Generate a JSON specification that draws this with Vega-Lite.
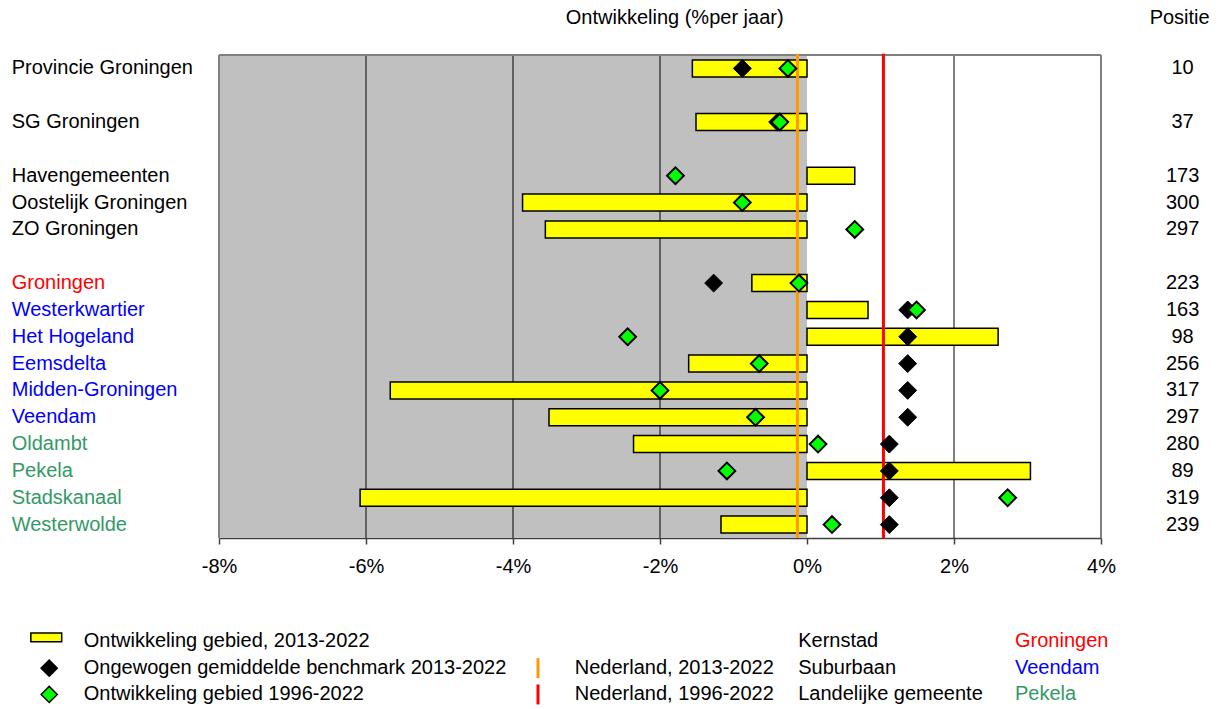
{
  "$schema": "https://vega.github.io/schema/vega-lite/v6.json",
  "width": 882,
  "height": 483,
  "autosize": {"type": "none"},
  "padding": {"left": 219, "top": 55, "right": 119, "bottom": 171},
  "background": "white",
  "config": {
    "view": {"stroke": null},
    "font": "Liberation Sans",
    "text": {"font": "Liberation Sans", "fontSize": 20},
    "scale": {"continuousPadding": 0}
  },
  "datasets": {
    "rows": [
      {"slot": 0, "name": "Provincie Groningen", "cat": "none", "bar": -1.56, "bench": -0.88, "green": -0.26, "pos": 10},
      {"slot": 2, "name": "SG Groningen", "cat": "none", "bar": -1.51, "bench": -0.40, "green": -0.37, "pos": 37},
      {"slot": 4, "name": "Havengemeenten", "cat": "none", "bar": 0.65, "bench": null, "green": -1.79, "pos": 173},
      {"slot": 5, "name": "Oostelijk Groningen", "cat": "none", "bar": -3.87, "bench": null, "green": -0.88, "pos": 300},
      {"slot": 6, "name": "ZO Groningen", "cat": "none", "bar": -3.56, "bench": null, "green": 0.65, "pos": 297},
      {"slot": 8, "name": "Groningen", "cat": "Kernstad", "bar": -0.75, "bench": -1.27, "green": -0.11, "pos": 223},
      {"slot": 9, "name": "Westerkwartier", "cat": "Suburbaan", "bar": 0.83, "bench": 1.37, "green": 1.49, "pos": 163},
      {"slot": 10, "name": "Het Hogeland", "cat": "Suburbaan", "bar": 2.60, "bench": 1.37, "green": -2.44, "pos": 98},
      {"slot": 11, "name": "Eemsdelta", "cat": "Suburbaan", "bar": -1.61, "bench": 1.37, "green": -0.65, "pos": 256},
      {"slot": 12, "name": "Midden-Groningen", "cat": "Suburbaan", "bar": -5.67, "bench": 1.37, "green": -2.0, "pos": 317},
      {"slot": 13, "name": "Veendam", "cat": "Suburbaan", "bar": -3.51, "bench": 1.37, "green": -0.70, "pos": 297},
      {"slot": 14, "name": "Oldambt", "cat": "Landelijk", "bar": -2.36, "bench": 1.12, "green": 0.15, "pos": 280},
      {"slot": 15, "name": "Pekela", "cat": "Landelijk", "bar": 3.04, "bench": 1.12, "green": -1.09, "pos": 89},
      {"slot": 16, "name": "Stadskanaal", "cat": "Landelijk", "bar": -6.08, "bench": 1.12, "green": 2.73, "pos": 319},
      {"slot": 17, "name": "Westerwolde", "cat": "Landelijk", "bar": -1.17, "bench": 1.12, "green": 0.34, "pos": 239}
    ],
    "nl": [
      {"period": "2013-2022", "v": -0.13, "lslot": 22.35},
      {"period": "1996-2022", "v": 1.04, "lslot": 23.33}
    ],
    "grid": [
      {"v": -8, "kind": "border"},
      {"v": -6, "kind": "grid"},
      {"v": -4, "kind": "grid"},
      {"v": -2, "kind": "grid"},
      {"v": 2, "kind": "grid"},
      {"v": 4, "kind": "border"}
    ],
    "legtext": [
      {"t": "Ontwikkeling gebied, 2013-2022", "col": 1, "slot": 21.34, "cat": "none"},
      {"t": "Ongewogen gemiddelde benchmark 2013-2022", "col": 1, "slot": 22.35, "cat": "none"},
      {"t": "Ontwikkeling gebied 1996-2022", "col": 1, "slot": 23.33, "cat": "none"},
      {"t": "Nederland, 2013-2022", "col": 2, "slot": 22.35, "cat": "none"},
      {"t": "Nederland, 1996-2022", "col": 2, "slot": 23.33, "cat": "none"},
      {"t": "Kernstad", "col": 3, "slot": 21.34, "cat": "none"},
      {"t": "Suburbaan", "col": 3, "slot": 22.35, "cat": "none"},
      {"t": "Landelijke gemeente", "col": 3, "slot": 23.33, "cat": "none"},
      {"t": "Groningen", "col": 4, "slot": 21.34, "cat": "Kernstad"},
      {"t": "Veendam", "col": 4, "slot": 22.35, "cat": "Suburbaan"},
      {"t": "Pekela", "col": 4, "slot": 23.33, "cat": "Landelijk"}
    ],
    "legsym": [
      {"item": "bench", "slot": 22.35},
      {"item": "green", "slot": 23.33}
    ],
    "titles": [
      {"t": "Ontwikkeling (%per jaar)", "kind": "x"},
      {"t": "Positie", "kind": "pos"}
    ]
  },
  "resolve": {"scale": {"color": "independent", "fill": "independent"}},
  "layer": [
    {
      "data": {"values": [{}]},
      "mark": {"type": "rect", "fill": "#C0C0C0"},
      "encoding": {
        "x": {"datum": -8, "type": "quantitative", "title": null,
          "scale": {"domain": [-8, 4], "nice": false, "zero": false, "padding": 0},
          "axis": {"values": [-8, -6, -4, -2, 0, 2, 4], "labelExpr": "datum.value + '%'", "title": null, "grid": false,
            "domainColor": "#404040", "domainWidth": 1.5, "tickColor": "#404040", "tickSize": 6, "tickWidth": 1.5,
            "labelFont": "Liberation Sans", "labelFontSize": 20, "labelColor": "#000000", "labelPadding": 12, "labelFlush": false}},
        "x2": {"datum": 0},
        "y": {"datum": -0.5, "type": "quantitative",
          "scale": {"domain": [-0.5, 17.5], "reverse": true, "nice": false, "zero": false, "padding": 0}, "axis": null},
        "y2": {"datum": 17.5}
      }
    },
    {
      "data": {"name": "grid"},
      "mark": {"type": "rule"},
      "encoding": {
        "x": {"field": "v", "type": "quantitative", "title": null},
        "y": {"datum": -0.5, "type": "quantitative", "axis": null},
        "y2": {"datum": 17.5},
        "color": {"condition": {"test": "datum.kind == 'border'", "value": "#808080"}, "value": "#000000"},
        "strokeWidth": {"condition": {"test": "datum.kind == 'border'", "value": 2}, "value": 1}
      }
    },
    {
      "data": {"values": [{}]},
      "mark": {"type": "rule", "color": "#808080", "strokeWidth": 2},
      "encoding": {
        "x": {"datum": -8, "type": "quantitative", "title": null},
        "x2": {"datum": 4},
        "y": {"datum": -0.5, "type": "quantitative", "axis": null}
      }
    },
    {
      "data": {"name": "rows"},
      "mark": {"type": "bar", "orient": "horizontal", "size": 17, "fill": "#FFFF00", "stroke": "#000000", "strokeWidth": 1.5},
      "encoding": {
        "x": {"field": "bar", "type": "quantitative", "title": null},
        "x2": {"datum": 0},
        "y": {"field": "slot", "type": "quantitative", "axis": null}
      }
    },
    {
      "data": {"name": "nl"},
      "mark": {"type": "rule", "strokeWidth": 3},
      "encoding": {
        "x": {"field": "v", "type": "quantitative", "title": null},
        "y": {"datum": -0.55, "type": "quantitative", "axis": null},
        "y2": {"datum": 17.5},
        "color": {"field": "period", "type": "nominal", "scale": {"domain": ["2013-2022", "1996-2022"], "range": ["#FF9900", "#FF0000"]}, "legend": null}
      }
    },
    {
      "data": {"name": "rows"},
      "mark": {"type": "point", "shape": "diamond", "filled": true, "size": 320, "fill": "#000000", "stroke": "#000000", "strokeWidth": 1, "opacity": 1},
      "encoding": {
        "x": {"field": "bench", "type": "quantitative", "title": null},
        "y": {"field": "slot", "type": "quantitative", "axis": null}
      }
    },
    {
      "data": {"name": "rows"},
      "mark": {"type": "point", "shape": "diamond", "filled": true, "size": 280, "fill": "#00FF00", "stroke": "#000000", "strokeWidth": 2, "opacity": 1},
      "encoding": {
        "x": {"field": "green", "type": "quantitative", "title": null},
        "y": {"field": "slot", "type": "quantitative", "axis": null}
      }
    },
    {
      "data": {"name": "rows"},
      "mark": {"type": "text", "align": "left", "baseline": "middle", "fontSize": 20},
      "encoding": {
        "x": {"datum": -10.82, "type": "quantitative", "title": null},
        "y": {"field": "slot", "type": "quantitative", "axis": null},
        "text": {"field": "name"},
        "color": {"field": "cat", "type": "nominal", "scale": {"domain": ["none", "Kernstad", "Suburbaan", "Landelijk"], "range": ["#000000", "#FF0000", "#0000FF", "#339966"]}, "legend": null}
      }
    },
    {
      "data": {"name": "rows"},
      "mark": {"type": "text", "align": "center", "baseline": "middle", "fontSize": 20, "color": "#000000"},
      "encoding": {
        "x": {"datum": 5.11, "type": "quantitative", "title": null},
        "y": {"field": "slot", "type": "quantitative", "axis": null},
        "text": {"field": "pos"}
      }
    },
    {
      "data": {"name": "titles"},
      "transform": [{"filter": "datum.kind == 'x'"}],
      "mark": {"type": "text", "align": "center", "baseline": "middle", "fontSize": 20, "color": "#000000"},
      "encoding": {
        "x": {"datum": -1.8, "type": "quantitative", "title": null},
        "y": {"datum": -1.87, "type": "quantitative", "axis": null},
        "text": {"field": "t"}
      }
    },
    {
      "data": {"name": "titles"},
      "transform": [{"filter": "datum.kind == 'pos'"}],
      "mark": {"type": "text", "align": "center", "baseline": "middle", "fontSize": 20, "color": "#000000"},
      "encoding": {
        "x": {"datum": 5.07, "type": "quantitative", "title": null},
        "y": {"datum": -1.87, "type": "quantitative", "axis": null},
        "text": {"field": "t"}
      }
    },
    {
      "data": {"values": [{}]},
      "mark": {"type": "rect", "fill": "#FFFF00", "stroke": "#000000", "strokeWidth": 1.5},
      "encoding": {
        "x": {"datum": -10.56, "type": "quantitative", "title": null},
        "x2": {"datum": -10.14},
        "y": {"datum": 21.04, "type": "quantitative", "axis": null},
        "y2": {"datum": 21.37}
      }
    },
    {
      "data": {"name": "legsym"},
      "mark": {"type": "point", "shape": "diamond", "filled": true, "size": 260, "stroke": "#000000", "strokeWidth": 1.5, "opacity": 1},
      "encoding": {
        "x": {"datum": -10.31, "type": "quantitative", "title": null},
        "y": {"field": "slot", "type": "quantitative", "axis": null},
        "fill": {"field": "item", "type": "nominal", "scale": {"domain": ["bench", "green"], "range": ["#000000", "#00FF00"]}, "legend": null}
      }
    },
    {
      "data": {"name": "nl"},
      "mark": {"type": "tick", "orient": "vertical", "size": 20, "thickness": 3, "opacity": 1},
      "encoding": {
        "x": {"datum": -3.66, "type": "quantitative", "title": null},
        "y": {"field": "lslot", "type": "quantitative", "axis": null},
        "color": {"field": "period", "type": "nominal", "scale": {"domain": ["2013-2022", "1996-2022"], "range": ["#FF9900", "#FF0000"]}, "legend": null}
      }
    },
    {
      "data": {"name": "legtext"},
      "transform": [{"filter": "datum.col == 1"}],
      "mark": {"type": "text", "align": "left", "baseline": "middle", "fontSize": 20, "color": "#000000"},
      "encoding": {
        "x": {"datum": -9.84, "type": "quantitative", "title": null},
        "y": {"field": "slot", "type": "quantitative", "axis": null},
        "text": {"field": "t"}
      }
    },
    {
      "data": {"name": "legtext"},
      "transform": [{"filter": "datum.col == 2"}],
      "mark": {"type": "text", "align": "left", "baseline": "middle", "fontSize": 20, "color": "#000000"},
      "encoding": {
        "x": {"datum": -3.16, "type": "quantitative", "title": null},
        "y": {"field": "slot", "type": "quantitative", "axis": null},
        "text": {"field": "t"}
      }
    },
    {
      "data": {"name": "legtext"},
      "transform": [{"filter": "datum.col == 3"}],
      "mark": {"type": "text", "align": "left", "baseline": "middle", "fontSize": 20, "color": "#000000"},
      "encoding": {
        "x": {"datum": -0.12, "type": "quantitative", "title": null},
        "y": {"field": "slot", "type": "quantitative", "axis": null},
        "text": {"field": "t"}
      }
    },
    {
      "data": {"name": "legtext"},
      "transform": [{"filter": "datum.col == 4"}],
      "mark": {"type": "text", "align": "left", "baseline": "middle", "fontSize": 20},
      "encoding": {
        "x": {"datum": 2.83, "type": "quantitative", "title": null},
        "y": {"field": "slot", "type": "quantitative", "axis": null},
        "text": {"field": "t"},
        "color": {"field": "cat", "type": "nominal", "scale": {"domain": ["none", "Kernstad", "Suburbaan", "Landelijk"], "range": ["#000000", "#FF0000", "#0000FF", "#339966"]}, "legend": null}
      }
    }
  ]
}
